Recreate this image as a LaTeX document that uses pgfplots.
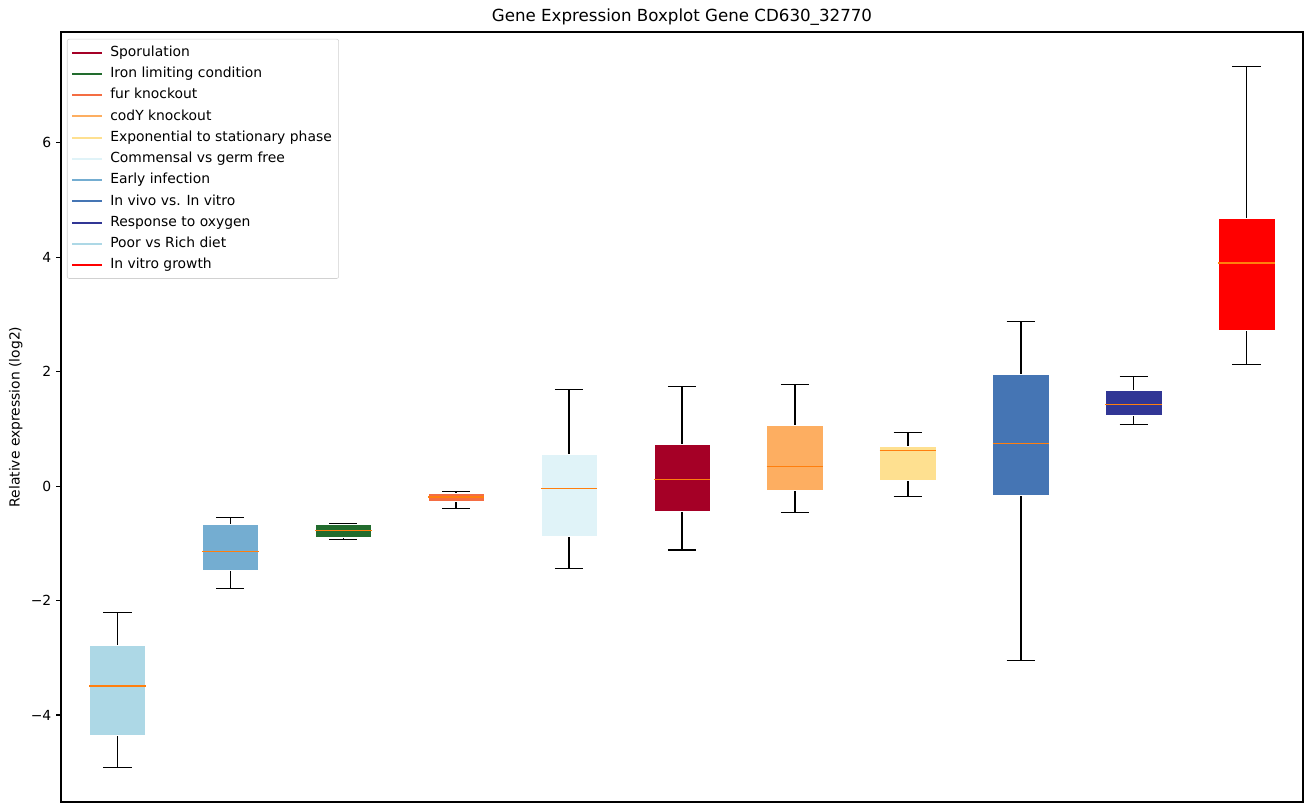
\documentclass[border=0pt]{standalone}
\usepackage{fontspec}
\setmainfont{DejaVu Sans}
\usepackage{pgfplots}
\pgfplotsset{compat=1.18}
\usepgfplotslibrary{statistics}
\definecolor{cpoor}{HTML}{ADD8E6}
\definecolor{cearly}{HTML}{74ADD1}
\definecolor{ciron}{RGB}{34,108,46}
\definecolor{cfur}{HTML}{F46D43}
\definecolor{ccomm}{HTML}{E0F3F8}
\definecolor{cspor}{HTML}{A50026}
\definecolor{ccody}{HTML}{FDAE61}
\definecolor{cexp}{HTML}{FEE090}
\definecolor{cvivo}{HTML}{4575B4}
\definecolor{coxy}{HTML}{313695}
\definecolor{cvitro}{HTML}{FF0000}
\definecolor{mplorange}{HTML}{FF7F0E}
\pgfplotsset{
  mybox/.style n args={7}{
    boxplot prepared={lower whisker=#2, lower quartile=#3, median=#4, upper quartile=#5, upper whisker=#6,
      draw position=#1, box extend=0.5, whisker extend=0.25, draw direction=y},
    draw=black, line width=1.1pt, solid, forget plot,
    boxplot/every box/.style={fill=#7, draw=white, line width=0.3pt},
    boxplot/every median/.style={draw=mplorange, line width=1pt},
    boxplot/every whisker/.style={draw=black, line width=1.1pt},
  }
}
\begin{document}
\begin{tikzpicture}
\begin{axis}[
  scale only axis,
  width=894.24pt, height=554.4pt,
  xmin=0.5, xmax=11.5, ymin=-5.52, ymax=7.937,
  xtick=\empty,
  ytick={-4,-2,0,2,4,6},
  yticklabels={−4,−2,0,2,4,6},
  ytick pos=left,
  tick align=outside,
  major tick length=3.5pt,
  y tick style={black, line width=0.8pt},
  axis line style={line width=0.8pt},
  tick label style={font=\fontsize{10}{12}\selectfont},
  ylabel={Relative expression (log2)},
  ylabel style={font=\fontsize{10}{12}\selectfont, at={(axis description cs:-0.027,0.5)}, anchor=south, rotate=0},
  title={Gene Expression Boxplot Gene CD630\_32770},
  title style={font=\fontsize{12}{14}\selectfont, at={(axis description cs:0.5,1)}, anchor=south, yshift=-5pt},
  legend cell align=left,
  legend style={at={(axis description cs:0.0048,0.991)}, anchor=north west,
    draw=black!18, rounded corners=1.5pt, fill=white,
    font=\fontsize{10}{12}\selectfont, row sep=0pt,
    nodes={text height=8pt, text depth=2.5pt, inner ysep=2.4pt},
    /tikz/every odd column/.append style={column sep=3pt}},
  legend image code/.code={\draw[#1, line width=1.5pt] (0pt,0pt) -- (21.5pt,0pt);},
]
\addplot[mybox={1}{-4.92}{-4.35}{-3.49}{-2.78}{-2.21}{cpoor}] coordinates {};
\addplot[mybox={2}{-1.79}{-1.47}{-1.14}{-0.66}{-0.55}{cearly}] coordinates {};
\addplot[mybox={3}{-0.93}{-0.89}{-0.77}{-0.66}{-0.66}{ciron}] coordinates {};
\addplot[mybox={4}{-0.39}{-0.26}{-0.19}{-0.12}{-0.09}{cfur}] coordinates {};
\addplot[mybox={5}{-1.44}{-0.87}{-0.04}{0.56}{1.69}{ccomm}] coordinates {};
\addplot[mybox={6}{-1.12}{-0.44}{0.12}{0.73}{1.74}{cspor}] coordinates {};
\addplot[mybox={7}{-0.46}{-0.07}{0.34}{1.07}{1.78}{ccody}] coordinates {};
\addplot[mybox={8}{-0.18}{0.10}{0.62}{0.70}{0.94}{cexp}] coordinates {};
\addplot[mybox={9}{-3.05}{-0.15}{0.75}{1.96}{2.88}{cvivo}] coordinates {};
\addplot[mybox={10}{1.08}{1.24}{1.43}{1.68}{1.92}{coxy}] coordinates {};
\addplot[mybox={11}{2.13}{2.72}{3.90}{4.69}{7.33}{cvitro}] coordinates {};
\addlegendimage{cspor}\addlegendentry{Sporulation}
\addlegendimage{ciron}\addlegendentry{Iron limiting condition}
\addlegendimage{cfur}\addlegendentry{fur knockout}
\addlegendimage{ccody}\addlegendentry{codY knockout}
\addlegendimage{cexp}\addlegendentry{Exponential to stationary phase}
\addlegendimage{ccomm}\addlegendentry{Commensal vs germ free}
\addlegendimage{cearly}\addlegendentry{Early infection}
\addlegendimage{cvivo}\addlegendentry{In vivo vs. In vitro}
\addlegendimage{coxy}\addlegendentry{Response to oxygen}
\addlegendimage{cpoor}\addlegendentry{Poor vs Rich diet}
\addlegendimage{cvitro}\addlegendentry{In vitro growth}
\end{axis}
\pgfresetboundingbox
\path ([shift={(-43.92pt,-7.2pt)}]current axis.south west) rectangle ([shift={(4.32pt,23.04pt)}]current axis.north east);
\end{tikzpicture}
\end{document}
